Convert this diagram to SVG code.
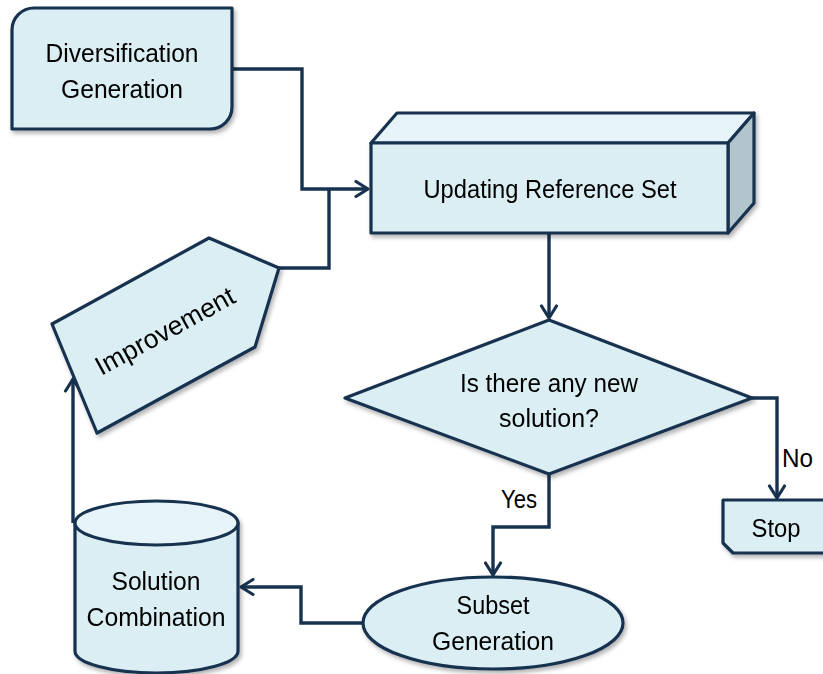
<svg xmlns="http://www.w3.org/2000/svg" width="823" height="674" viewBox="0 0 823 674">
<defs>
<style>
.shape{fill:#DAEEF3;stroke:#17324F;stroke-width:3.2;stroke-linejoin:round}
.light{fill:#E6F3F8;stroke:#17324F;stroke-width:3.2;stroke-linejoin:round}
.dark{fill:#B2C5CC;stroke:#17324F;stroke-width:3.2;stroke-linejoin:round}
.conn{fill:none;stroke:#17324F;stroke-width:3.4;stroke-linejoin:miter}
text{font-family:"Liberation Sans",Arial,sans-serif;font-size:26.5px;fill:#000}
.c{text-anchor:middle}
</style>
<filter id="sh" x="-10%" y="-10%" width="125%" height="130%">
<feDropShadow dx="2" dy="3" stdDeviation="2" flood-color="#000" flood-opacity="0.3"/>
</filter>
<marker id="arr" markerUnits="userSpaceOnUse" viewBox="-15 -10 17 20" refX="0" refY="0" markerWidth="17" markerHeight="20" orient="auto">
<path d="M-12,-7.5 L0,0 L-12,7.5" fill="none" stroke="#17324F" stroke-width="3.2" stroke-linecap="round" stroke-linejoin="round"/>
</marker>
</defs>

<g id="connectors">
<path class="conn" d="M232,69 H302 V189 H368" marker-end="url(#arr)"/>
<path class="conn" d="M279,268 H329 V189"/>
<path class="conn" d="M549,233 V318" marker-end="url(#arr)"/>
<path class="conn" d="M752,398 H777 V498" marker-end="url(#arr)"/>
<path class="conn" d="M549,474 V527 H493 V575" marker-end="url(#arr)"/>
<path class="conn" d="M363,623 H301 V587 H241" marker-end="url(#arr)"/>
<path class="conn" d="M73,523 V379" marker-end="url(#arr)"/>
<text x="501" y="508" textLength="36" lengthAdjust="spacingAndGlyphs">Yes</text>
<text x="782" y="467" textLength="31" lengthAdjust="spacingAndGlyphs">No</text>
</g>

<g id="diversification" filter="url(#sh)">
<path class="shape" d="M12,129 V30 A22,22 0 0 1 34,8 H232 V107 A22,22 0 0 1 210,129 Z"/>
<text class="c" x="122" y="62" textLength="153" lengthAdjust="spacingAndGlyphs">Diversification</text>
<text class="c" x="122" y="98" textLength="122" lengthAdjust="spacingAndGlyphs">Generation</text>
</g>

<g id="updating" filter="url(#sh)">
<path class="light" d="M371,143 L397,113 H754 L728,143 Z"/>
<path class="dark" d="M728,143 L754,113 V203 L728,233 Z"/>
<rect class="shape" x="371" y="143" width="357" height="90"/>
<text class="c" x="550" y="198" textLength="253" lengthAdjust="spacingAndGlyphs">Updating Reference Set</text>
</g>

<g id="improvement" filter="url(#sh)">
<path class="shape" d="M52,324 L209,238 L279,268 L255,347 L97,433 Z"/>
<text class="c" transform="translate(165,331) rotate(-28.7)" x="0" y="9" textLength="155" lengthAdjust="spacingAndGlyphs">Improvement</text>
</g>

<g id="decision" filter="url(#sh)">
<path class="shape" d="M549,320 L752,398 L549,474 L345,398 Z"/>
<text class="c" x="549" y="392" textLength="178" lengthAdjust="spacingAndGlyphs">Is there any new</text>
<text class="c" x="549" y="427" textLength="100" lengthAdjust="spacingAndGlyphs">solution?</text>
</g>

<g id="stop" filter="url(#sh)">
<path class="shape" d="M723,500 H830 V553 H733 L723,543 Z"/>
<text class="c" x="776" y="537" textLength="49" lengthAdjust="spacingAndGlyphs">Stop</text>
</g>

<g id="subset" filter="url(#sh)">
<ellipse class="shape" cx="493" cy="623" rx="130" ry="46"/>
<text class="c" x="493" y="614" textLength="73" lengthAdjust="spacingAndGlyphs">Subset</text>
<text class="c" x="493" y="650" textLength="122" lengthAdjust="spacingAndGlyphs">Generation</text>
</g>

<g id="combination" filter="url(#sh)">
<path class="shape" d="M75,523 V651 A81.5,22 0 0 0 238,651 V523 Z"/>
<ellipse class="light" cx="156.5" cy="523" rx="81.5" ry="22"/>
<text class="c" x="156" y="590" textLength="89" lengthAdjust="spacingAndGlyphs">Solution</text>
<text class="c" x="156" y="626" textLength="139" lengthAdjust="spacingAndGlyphs">Combination</text>
</g>
</svg>
